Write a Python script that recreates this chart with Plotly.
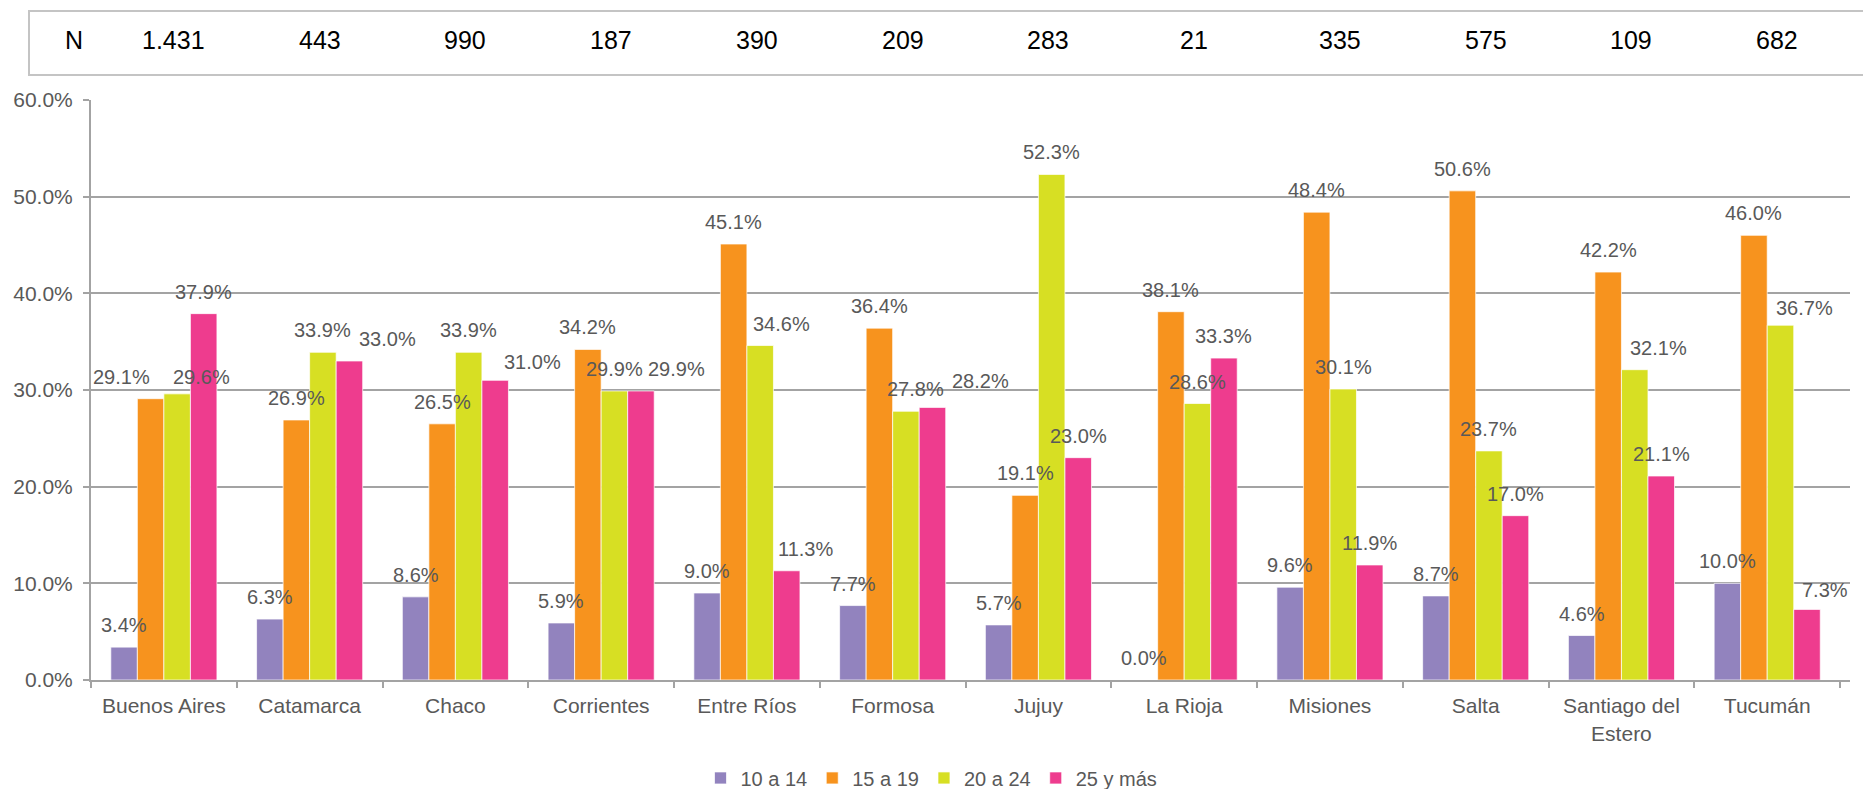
import plotly.graph_objects as go

# Provinces (categories) and sample sizes shown in the header row
provinces = ["Buenos Aires", "Catamarca", "Chaco", "Corrientes", "Entre Ríos", "Formosa",
             "Jujuy", "La Rioja", "Misiones", "Salta", "Santiago del Estero", "Tucumán"]
province_ticktext = ["Buenos Aires", "Catamarca", "Chaco", "Corrientes", "Entre Ríos", "Formosa",
                     "Jujuy", "La Rioja", "Misiones", "Salta", "Santiago del<br>Estero", "Tucumán"]
n_counts = ["1.431", "443", "990", "187", "390", "209", "283", "21", "335", "575", "109", "682"]

# Share of each age group by province (%)
age_groups = ["10 a 14", "15 a 19", "20 a 24", "25 y más"]
pct_10_14 = [3.4, 6.3, 8.6, 5.9, 9.0, 7.7, 5.7, 0.0, 9.6, 8.7, 4.6, 10.0]
pct_15_19 = [29.1, 26.9, 26.5, 34.2, 45.1, 36.4, 19.1, 38.1, 48.4, 50.6, 42.2, 46.0]
pct_20_24 = [29.6, 33.9, 33.9, 29.9, 34.6, 27.8, 52.3, 28.6, 30.1, 23.7, 32.1, 36.7]
pct_25_mas = [37.9, 33.0, 31.0, 29.9, 11.3, 28.2, 23.0, 33.3, 11.9, 17.0, 21.1, 7.3]
series = [pct_10_14, pct_15_19, pct_20_24, pct_25_mas]
colors = ["#9283BE", "#F7931E", "#D7DF23", "#EE3C8E"]

# Hand nudges (px) for value labels that would otherwise collide
label_dx = [
    [0] * 12,
    [-29, 0, 0, 0, 0, 0, 0, 0, 0, 0, 0, 0],
    [24, 0, 0, 0, 21, 10, 0, 0, 0, 0, 24, 24],
    [0, 38, 37, 36, 19, 48, 0, 0, 0, 0, 0, 18],
]
label_dy = [
    [0] * 12,
    [0] * 12,
    [5, 0, 0, 0, 0, 0, 0, 0, 0, 0, 0, 5],
    [0, 0, 4, 0, 0, -4, 0, 0, 0, 0, 0, 3],
]

W, H = 1863, 789
M_L, M_R, M_T, M_B = 91, 13, 100, 109
PLOT_W, PLOT_H = W - M_L - M_R, H - M_T - M_B
BARGAP = 0.272
TEXT = "#595959"
GRID = "#a3a3a3"
FONT = "Liberation Sans, Arial, sans-serif"


def px_x(px):
    return (px - M_L) / PLOT_W


def px_y(px):
    return (H - M_B - px) / PLOT_H


fig = go.Figure()
for name, vals, col in zip(age_groups, series, colors):
    fig.add_trace(go.Bar(
        name=name, x=provinces, y=vals,
        marker=dict(color=col, line=dict(color="rgba(255,255,255,0.7)", width=1)),
        hoverinfo="skip",
    ))

annotations = []
n_series = len(series)
for s, vals in enumerate(series):
    offset = (s - (n_series - 1) / 2) * (1 - BARGAP) / n_series
    for k, v in enumerate(vals):
        annotations.append(dict(
            x=k + offset, y=v, xref="x", yref="y",
            text=f"{v:.1f}%", showarrow=False,
            xanchor="center", yanchor="middle",
            xshift=label_dx[s][k], yshift=22 - label_dy[s][k],
            font=dict(family=FONT, size=20, color=TEXT),
        ))

# Header row with sample sizes
row_y = px_y(40)
annotations.append(dict(x=px_x(74), y=row_y, xref="paper", yref="paper", text="N",
                        showarrow=False, xanchor="center", yanchor="middle",
                        font=dict(family=FONT, size=25, color="#000000")))
for k, n in enumerate(n_counts):
    annotations.append(dict(x=k, y=row_y, xref="x", yref="paper", text=n, xshift=10,
                            showarrow=False, xanchor="center", yanchor="middle",
                            font=dict(family=FONT, size=25, color="#000000")))

shapes = [dict(type="rect", xref="paper", yref="paper",
               x0=px_x(29), x1=px_x(1875), y0=px_y(75), y1=px_y(11),
               line=dict(color="#c4c4c4", width=2), fillcolor="rgba(0,0,0,0)", layer="below")]

fig.update_layout(
    width=W, height=H,
    margin=dict(l=M_L, r=M_R, t=M_T, b=M_B, autoexpand=False),
    paper_bgcolor="white", plot_bgcolor="white",
    barmode="group", bargap=BARGAP, bargroupgap=0,
    font=dict(family=FONT, size=20, color=TEXT),
    annotations=annotations, shapes=shapes,
    legend=dict(orientation="h", xref="container", yref="container",
                x=0.5, xanchor="center", y=0.014, yanchor="middle",
                font=dict(family=FONT, size=20, color=TEXT),
                itemclick=False, itemdoubleclick=False, traceorder="normal"),
    xaxis=dict(type="category", tickmode="array", tickvals=provinces, ticktext=province_ticktext,
               tickson="boundaries", ticks="outside", ticklen=6, tickwidth=2, tickcolor=GRID,
               showline=True, linecolor=GRID, linewidth=2, showgrid=False,
               tickfont=dict(family=FONT, size=21, color=TEXT), ticklabelstandoff=6),
    yaxis=dict(range=[0, 60], tickvals=[0, 10, 20, 30, 40, 50, 60],
               ticktext=[f"{t:.1f}%" for t in [0, 10, 20, 30, 40, 50, 60]],
               ticks="outside", ticklen=6, tickwidth=2, tickcolor=GRID,
               showline=True, linecolor=GRID, linewidth=2,
               showgrid=True, gridcolor=GRID, gridwidth=2, zeroline=False,
               tickfont=dict(family=FONT, size=21, color=TEXT), ticklabelstandoff=6),
)

fig.write_html("out.html")
